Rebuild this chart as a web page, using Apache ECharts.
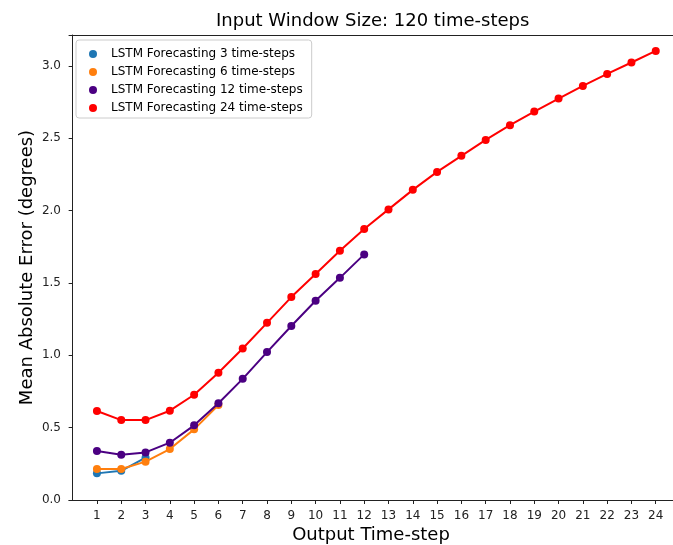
<!DOCTYPE html>
<html>
<head>
<meta charset="utf-8">
<script src="https://cdn.jsdelivr.net/npm/echarts@6/dist/echarts.min.js"></script>
<style>
  html, body { margin: 0; padding: 0; background: #fff; }
  #chart { width: 673px; height: 545px; }
</style>
</head>
<body>
<div id="chart"></div>
<script>
// output time-steps on the x axis
const steps = [1, 2, 3, 4, 5, 6, 7, 8, 9, 10, 11, 12, 13, 14, 15, 16, 17, 18, 19, 20, 21, 22, 23, 24];
const yTicks = [0, 0.5, 1.0, 1.5, 2.0, 2.5, 3.0];

// mean absolute error
const mae3 = [0.184, 0.202, 0.292];
const mae6 = [0.214, 0.214, 0.265, 0.352, 0.488, 0.656];
const mae12 = [0.338, 0.313, 0.329, 0.396, 0.516, 0.668, 0.837, 1.022, 1.202, 1.377, 1.535, 1.697];
const mae24 = [0.615, 0.552, 0.552, 0.617, 0.727, 0.879, 1.047, 1.224, 1.402, 1.561, 1.722, 1.872,
  2.008, 2.143, 2.267, 2.378, 2.488, 2.590, 2.684, 2.774, 2.861, 2.944, 3.023, 3.103];

const names = ['LSTM Forecasting 3 time-steps', 'LSTM Forecasting 6 time-steps',
  'LSTM Forecasting 12 time-steps', 'LSTM Forecasting 24 time-steps'];
const colors = ['#1f77b4', '#ff7f0e', '#4b0082', '#ff0000'];
const values = [mae3, mae6, mae12, mae24];

const font = 'DejaVu Sans';

function makeSeries (i) {
  return {
    name: names[i],
    type: 'line',
    xAxisIndex: 0,
    data: values[i].map((v, k) => [steps[k], v]),
    symbol: 'circle',
    symbolSize: 8,
    showSymbol: true,
    animation: false,
    lineStyle: { width: 2, color: colors[i] },
    itemStyle: { color: colors[i] },
    z: 2 + i
  };
}

const chart = echarts.init(document.getElementById('chart'), null, { renderer: 'canvas' });
chart.setOption({
  animation: false,
  color: colors,
  title: {
    text: 'Input Window Size: 120 time-steps',
    left: 216,
    top: 12,
    padding: 0,
    textStyle: { fontFamily: font, fontSize: 18, fontWeight: 'normal', color: '#000' }
  },
  legend: {
    orient: 'vertical',
    left: 76,
    top: 40,
    padding: [7, 9, 3, 13],
    itemGap: 4,
    itemWidth: 26,
    itemHeight: 8,
    icon: 'circle',
    backgroundColor: 'rgba(255,255,255,0.8)',
    borderColor: '#cccccc',
    borderWidth: 1,
    borderRadius: 3,
    data: names,
    textStyle: { fontFamily: font, fontSize: 12, color: '#000', lineHeight: 14 }
  },
  grid: {
    left: 69,
    right: 0,
    top: 35,
    bottom: 45,
    outerBoundsMode: 'none',
    containLabel: false,
    show: false
  },
  xAxis: [{
    type: 'value',
    min: -0.15,
    max: 24.71,
    name: 'Output Time-step',
    nameLocation: 'middle',
    nameGap: 26,
    nameMoveOverlap: false,
    nameTextStyle: { fontFamily: font, fontSize: 18, color: '#000' },
    splitLine: { show: false },
    axisLine: { show: true, lineStyle: { color: '#222', width: 1 } },
    axisTick: { show: true, length: 4, customValues: steps, lineStyle: { color: '#222' } },
    axisLabel: { customValues: steps, fontFamily: font, fontSize: 12, color: '#222', margin: 10 }
  }, {
    // top spine only
    type: 'value',
    position: 'top',
    min: -0.15,
    max: 24.71,
    splitLine: { show: false },
    axisLine: { show: true, onZero: false, lineStyle: { color: '#222', width: 1 } },
    axisTick: { show: false },
    axisLabel: { show: false }
  }],
  yAxis: {
    type: 'value',
    min: 0,
    max: 3.213,
    name: 'Mean Absolute Error (degrees)',
    nameLocation: 'middle',
    nameGap: 33,
    nameMoveOverlap: false,
    nameRotate: 90,
    nameTextStyle: { fontFamily: font, fontSize: 18, color: '#000' },
    splitLine: { show: false },
    axisLine: { show: true, lineStyle: { color: '#222', width: 1 } },
    axisTick: { show: true, length: 4, customValues: yTicks, lineStyle: { color: '#222' } },
    axisLabel: {
      customValues: yTicks,
      fontFamily: font,
      fontSize: 12,
      color: '#222',
      margin: 8,
      formatter: v => v.toFixed(1)
    }
  },
  series: [0, 1, 2, 3].map(makeSeries)
});
</script>
</body>
</html>
